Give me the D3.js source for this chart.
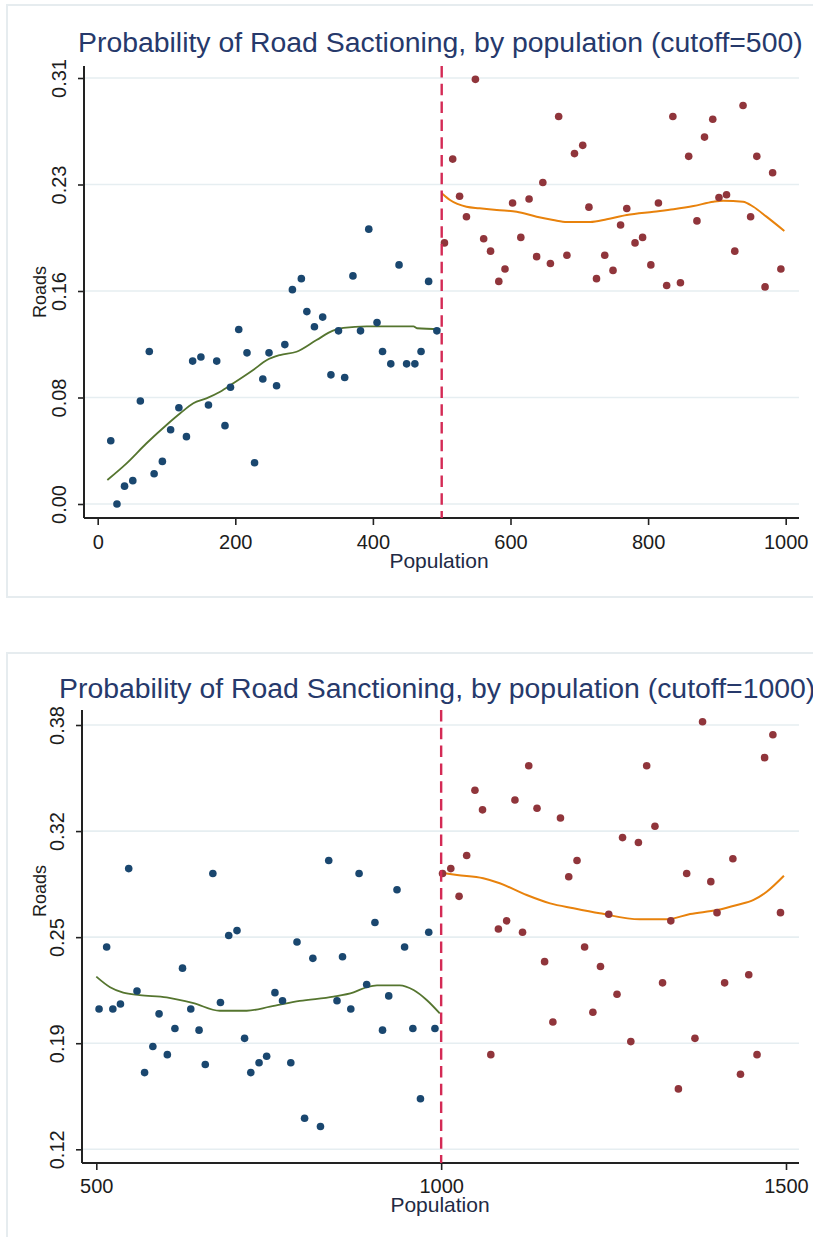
<!DOCTYPE html>
<html>
<head>
<meta charset="utf-8">
<script src="https://cdn.jsdelivr.net/npm/d3@7"></script>
<style>
  html, body { margin: 0; padding: 0; background: #fff; }
  svg { display: block; }
  text { font-family: "Liberation Sans", Arial, sans-serif; }
</style>
</head>
<body>
<svg id="chart" width="813" height="1237"></svg>
<script>
// ---- Panel 1: cutoff = 500 ----
const p1Title = "Probability of Road Sactioning, by population (cutoff=500)";
const p1Cutoff = 500;
const p1XTicks = [0, 200, 400, 600, 800, 1000];
const p1YTicks = [0, 0.0775, 0.155, 0.2325, 0.31];
const p1YTickLabels = ["0.00", "0.08", "0.16", "0.23", "0.31"];

const p1PopBelow = [19, 28, 39, 51, 62, 75, 82, 94, 106, 118, 129, 138, 150, 161, 173, 185, 193, 205, 217, 228, 240, 249, 260, 272, 283, 296, 304, 315, 327, 339, 350, 359, 371, 382, 394, 406, 414, 426, 438, 449, 461, 470, 481, 493];
const p1RoadsBelow = [0.046, 0.000, 0.013, 0.017, 0.075, 0.111, 0.022, 0.031, 0.054, 0.070, 0.049, 0.104, 0.107, 0.072, 0.104, 0.057, 0.085, 0.127, 0.110, 0.030, 0.091, 0.110, 0.086, 0.116, 0.156, 0.164, 0.140, 0.129, 0.136, 0.094, 0.126, 0.092, 0.166, 0.126, 0.200, 0.132, 0.111, 0.102, 0.174, 0.102, 0.102, 0.111, 0.162, 0.126];

const p1PopAbove = [504, 516, 526, 536, 549, 561, 571, 583, 592, 603, 615, 627, 638, 647, 658, 670, 682, 693, 705, 714, 725, 737, 749, 760, 769, 781, 792, 804, 815, 827, 836, 847, 859, 871, 882, 894, 903, 914, 926, 938, 949, 958, 970, 981, 993];
const p1RoadsAbove = [0.190, 0.251, 0.224, 0.209, 0.309, 0.193, 0.184, 0.162, 0.171, 0.219, 0.194, 0.222, 0.180, 0.234, 0.175, 0.282, 0.181, 0.255, 0.261, 0.216, 0.164, 0.181, 0.170, 0.203, 0.215, 0.190, 0.194, 0.174, 0.219, 0.159, 0.282, 0.161, 0.253, 0.206, 0.267, 0.280, 0.223, 0.225, 0.184, 0.290, 0.209, 0.253, 0.158, 0.241, 0.171];

const p1FitBelowX = [14, 42, 71, 100, 120, 139, 158, 178, 197, 226, 246, 265, 289, 318, 342, 357, 391, 459, 464, 498];
const p1FitBelowY = [0.0175, 0.0296, 0.0442, 0.0575, 0.066, 0.0733, 0.0769, 0.0817, 0.0878, 0.0975, 0.1048, 0.1084, 0.1108, 0.1193, 0.1261, 0.1281, 0.1293, 0.1293, 0.1279, 0.1273];
const p1FitAboveX = [500, 512, 536, 555, 580, 609, 638, 662, 682, 716, 740, 769, 808, 837, 866, 895, 909, 938, 953, 972, 998];
const p1FitAboveY = [0.2261, 0.2212, 0.2163, 0.2152, 0.2139, 0.2127, 0.2091, 0.2067, 0.2052, 0.2052, 0.2072, 0.2103, 0.2127, 0.2145, 0.2168, 0.22, 0.2207, 0.22, 0.2163, 0.2091, 0.1987];

// ---- Panel 2: cutoff = 1000 ----
const p2Title = "Probability of Road Sanctioning, by population (cutoff=1000)";
const p2Cutoff = 1000;
const p2XTicks = [500, 1000, 1500];
const p2YTicks = [0.12, 0.185, 0.25, 0.315, 0.38];
const p2YTickLabels = ["0.12", "0.19", "0.25", "0.32", "0.38"];

const p2PopBelow = [504, 515, 524, 535, 547, 559, 570, 582, 591, 603, 614, 625, 637, 649, 658, 669, 680, 692, 704, 715, 724, 736, 747, 759, 770, 782, 791, 802, 814, 825, 837, 849, 857, 869, 881, 892, 904, 915, 924, 936, 947, 959, 970, 982, 991];
const p2RoadsBelow = [0.206, 0.244, 0.206, 0.209, 0.292, 0.217, 0.167, 0.183, 0.203, 0.178, 0.194, 0.231, 0.206, 0.193, 0.172, 0.289, 0.210, 0.251, 0.254, 0.188, 0.167, 0.173, 0.177, 0.216, 0.211, 0.173, 0.247, 0.139, 0.237, 0.134, 0.297, 0.211, 0.238, 0.206, 0.289, 0.221, 0.259, 0.193, 0.214, 0.279, 0.244, 0.194, 0.151, 0.253, 0.194];

const p2PopAbove = [1002, 1014, 1026, 1037, 1049, 1060, 1072, 1083, 1095, 1107, 1118, 1127, 1139, 1150, 1162, 1173, 1185, 1197, 1208, 1220, 1231, 1243, 1255, 1263, 1275, 1286, 1298, 1310, 1321, 1333, 1344, 1356, 1368, 1379, 1391, 1400, 1411, 1423, 1434, 1446, 1458, 1469, 1481, 1492];
const p2RoadsAbove = [0.289, 0.292, 0.275, 0.300, 0.340, 0.328, 0.178, 0.255, 0.260, 0.334, 0.253, 0.355, 0.329, 0.235, 0.198, 0.323, 0.287, 0.297, 0.244, 0.204, 0.232, 0.264, 0.215, 0.311, 0.186, 0.308, 0.355, 0.318, 0.222, 0.260, 0.157, 0.289, 0.188, 0.382, 0.284, 0.265, 0.222, 0.298, 0.166, 0.227, 0.178, 0.360, 0.374, 0.265];

const p2FitBelowX = [500, 520, 539, 563, 602, 641, 679, 718, 752, 795, 844, 873, 892, 907, 940, 960, 979, 998];
const p2FitBelowY = [0.2258, 0.2193, 0.216, 0.2145, 0.2131, 0.2095, 0.2049, 0.2049, 0.2074, 0.2109, 0.2135, 0.2162, 0.2193, 0.2205, 0.2205, 0.2176, 0.2115, 0.2033];
const p2FitAboveX = [1000, 1023, 1061, 1085, 1124, 1158, 1192, 1230, 1288, 1327, 1361, 1400, 1429, 1453, 1472, 1497];
const p2FitAboveY = [0.2895, 0.2881, 0.2861, 0.283, 0.2758, 0.2707, 0.2677, 0.2646, 0.2609, 0.2609, 0.2642, 0.2666, 0.2697, 0.2728, 0.2778, 0.2876];

const COLORS = {
  below: "#1a476f",
  above: "#90353b",
  fitBelow: "#55752f",
  fitAbove: "#e8820c",
  cutoff: "#d42a55",
  grid: "#e6eef1",
  frame: "#e6ecef",
  axis: "#222",
  title: "#26396b",
  text: "#1c1c1c"
};

const svg = d3.select("#chart");
const zip = (xs, ys) => xs.map((x, i) => [x, ys[i]]);

function drawPanel(cfg) {
  const g = svg.append("g");

  // outer frame of the graph region
  g.append("rect")
    .attr("x", cfg.frame.x).attr("y", cfg.frame.y)
    .attr("width", cfg.frame.w).attr("height", cfg.frame.h)
    .attr("fill", "#fff").attr("stroke", COLORS.frame).attr("stroke-width", 2);

  const x = d3.scaleLinear().domain(cfg.xDomain).range(cfg.xRange);
  const y = d3.scaleLinear().domain(cfg.yDomain).range(cfg.yRange);
  const L = cfg.plot.left, R = cfg.plot.right, T = cfg.plot.top, B = cfg.plot.bottom;

  // horizontal grid lines
  g.append("g").selectAll("line").data(cfg.yTicks).join("line")
    .attr("x1", L).attr("x2", R)
    .attr("y1", d => y(d)).attr("y2", d => y(d))
    .attr("stroke", COLORS.grid).attr("stroke-width", 1.6);

  // y axis
  const yAxis = d3.axisLeft(y).tickValues(cfg.yTicks)
    .tickFormat((d, i) => cfg.yTickLabels[i]).tickSize(6).tickPadding(0);
  const gy = g.append("g").attr("transform", `translate(${L},0)`).call(yAxis);
  gy.select(".domain").remove();
  gy.selectAll(".tick line").attr("stroke", COLORS.axis).attr("stroke-width", 1.6);
  gy.selectAll(".tick text")
    .attr("x", null).attr("dy", null)
    .attr("text-anchor", "middle")
    .attr("transform", `translate(${cfg.yLabelX - L},0) rotate(-90)`)
    .attr("font-size", 20).attr("fill", COLORS.text)
    .style("font-family", "Liberation Sans, Arial, sans-serif");
  g.append("line").attr("x1", L).attr("x2", L).attr("y1", T).attr("y2", B)
    .attr("stroke", COLORS.axis).attr("stroke-width", 2);

  // x axis
  const xAxis = d3.axisBottom(x).tickValues(cfg.xTicks)
    .tickFormat(d3.format("d")).tickSize(7).tickPadding(0);
  const gx = g.append("g").attr("transform", `translate(0,${B})`).call(xAxis);
  gx.select(".domain").remove();
  gx.selectAll(".tick line").attr("stroke", COLORS.axis).attr("stroke-width", 1.6);
  gx.selectAll(".tick text")
    .attr("y", cfg.xLabelY - B).attr("dy", null)
    .attr("font-size", 20).attr("fill", COLORS.text)
    .style("font-family", "Liberation Sans, Arial, sans-serif");
  g.append("line").attr("x1", L).attr("x2", R).attr("y1", B).attr("y2", B)
    .attr("stroke", COLORS.axis).attr("stroke-width", 2);

  // axis titles
  g.append("text")
    .attr("transform", `translate(${cfg.roadsX},${cfg.roadsY}) rotate(-90)`)
    .attr("text-anchor", "middle").attr("font-size", 18).attr("fill", COLORS.text)
    .text("Roads");
  g.append("text")
    .attr("x", cfg.popX).attr("y", cfg.popY)
    .attr("text-anchor", "middle").attr("font-size", 21).attr("fill", "#222a44")
    .text("Population");

  // chart title
  g.append("text")
    .attr("x", cfg.titleX).attr("y", cfg.titleY)
    .attr("text-anchor", "start").attr("font-size", 28.4).attr("fill", COLORS.title)
    .text(cfg.title);

  // fitted curves on each side of the cutoff
  const line = d3.line().x(d => x(d[0])).y(d => y(d[1])).curve(d3.curveMonotoneX);
  g.append("path").datum(zip(cfg.fitBelowX, cfg.fitBelowY))
    .attr("d", line).attr("fill", "none")
    .attr("stroke", COLORS.fitBelow).attr("stroke-width", 1.8);
  g.append("path").datum(zip(cfg.fitAboveX, cfg.fitAboveY))
    .attr("d", line).attr("fill", "none")
    .attr("stroke", COLORS.fitAbove).attr("stroke-width", 2);

  // binned scatter points
  g.append("g").selectAll("circle").data(zip(cfg.popBelow, cfg.roadsBelow)).join("circle")
    .attr("cx", d => x(d[0])).attr("cy", d => y(d[1])).attr("r", 3.8)
    .attr("fill", COLORS.below);
  g.append("g").selectAll("circle").data(zip(cfg.popAbove, cfg.roadsAbove)).join("circle")
    .attr("cx", d => x(d[0])).attr("cy", d => y(d[1])).attr("r", 3.8)
    .attr("fill", COLORS.above);

  // cutoff marker
  g.append("line")
    .attr("x1", x(cfg.cutoff)).attr("x2", x(cfg.cutoff))
    .attr("y1", T).attr("y2", B)
    .attr("stroke", COLORS.cutoff).attr("stroke-width", 2.4)
    .attr("stroke-dasharray", "11.5,6.3");
}

drawPanel({
  frame: { x: 7, y: 5, w: 830, h: 592 },
  plot: { left: 84, right: 799, top: 66, bottom: 518 },
  xDomain: [0, 1000], xRange: [97.7, 785.7],
  yDomain: [0, 0.31], yRange: [504, 78],
  xTicks: p1XTicks, yTicks: p1YTicks, yTickLabels: p1YTickLabels,
  yLabelX: 65.5, xLabelY: 549,
  roadsX: 46, roadsY: 292, popX: 439, popY: 568,
  title: p1Title, titleX: 78, titleY: 52,
  cutoff: p1Cutoff,
  popBelow: p1PopBelow, roadsBelow: p1RoadsBelow,
  popAbove: p1PopAbove, roadsAbove: p1RoadsAbove,
  fitBelowX: p1FitBelowX, fitBelowY: p1FitBelowY,
  fitAboveX: p1FitAboveX, fitAboveY: p1FitAboveY
});

drawPanel({
  frame: { x: 7, y: 653, w: 830, h: 620 },
  plot: { left: 82, right: 799, top: 710, bottom: 1163 },
  xDomain: [500, 1500], xRange: [96.3, 786],
  yDomain: [0.12, 0.38], yRange: [1149.3, 725],
  xTicks: p2XTicks, yTicks: p2YTicks, yTickLabels: p2YTickLabels,
  yLabelX: 63.5, xLabelY: 1193,
  roadsX: 46, roadsY: 891, popX: 440, popY: 1212,
  title: p2Title, titleX: 59, titleY: 698,
  cutoff: p2Cutoff,
  popBelow: p2PopBelow, roadsBelow: p2RoadsBelow,
  popAbove: p2PopAbove, roadsAbove: p2RoadsAbove,
  fitBelowX: p2FitBelowX, fitBelowY: p2FitBelowY,
  fitAboveX: p2FitAboveX, fitAboveY: p2FitAboveY
});
</script>
</body>
</html>
